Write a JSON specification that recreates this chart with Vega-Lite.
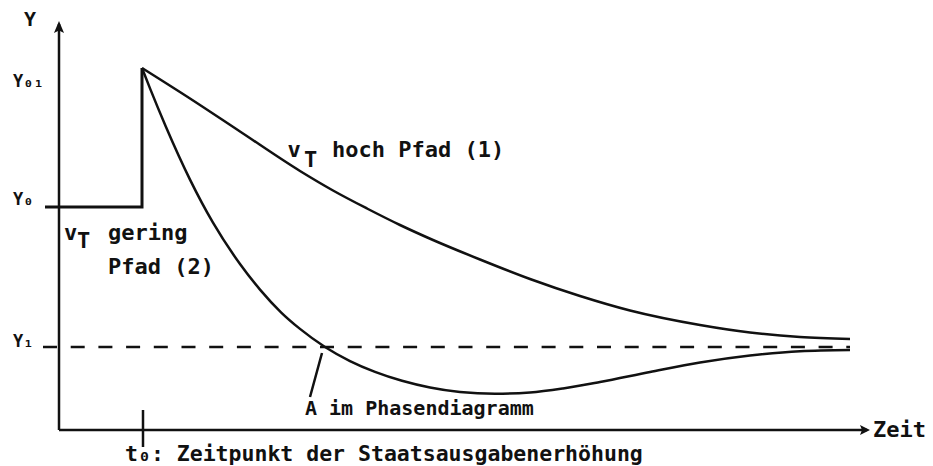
{
  "$schema": "https://vega.github.io/schema/vega-lite/v6.json",
  "width": 933,
  "height": 466,
  "autosize": {"type": "none"},
  "padding": 0,
  "background": "white",
  "config": {"view": {"stroke": null}},
  "datasets": {
    "axes": [
      {"x": 0, "y": 0, "x2": 0, "y2": 40.6},
      {"x": 0, "y": 0, "x2": 80.8, "y2": 0},
      {"x": 8.4, "y": 2.0, "x2": 8.4, "y2": -1.7},
      {"x": 26.3, "y": 7.7, "x2": 25.1, "y2": 3.3}
    ],
    "arrows": [
      {"x": 0, "y": 40.9, "dir": "up"},
      {"x": 81.1, "y": 0, "dir": "right"}
    ],
    "y1line": [{"x": -1.6, "x2": 79.1, "y": 8.3}],
    "step": [
      {"x": -1.4, "y": 22.3},
      {"x": 8.3, "y": 22.3},
      {"x": 8.3, "y": 36.2}
    ],
    "paths": [
      {"pfad": "1", "x": 8.3, "y": 36.2},
      {"pfad": "1", "x": 13.1, "y": 33.15},
      {"pfad": "1", "x": 18.1, "y": 29.85},
      {"pfad": "1", "x": 24.1, "y": 25.9},
      {"pfad": "1", "x": 27.4, "y": 23.95},
      {"pfad": "1", "x": 30.8, "y": 22.15},
      {"pfad": "1", "x": 34.1, "y": 20.5},
      {"pfad": "1", "x": 37.4, "y": 19.0},
      {"pfad": "1", "x": 42.1, "y": 17.05},
      {"pfad": "1", "x": 47.1, "y": 15.1},
      {"pfad": "1", "x": 52.1, "y": 13.4},
      {"pfad": "1", "x": 57.1, "y": 11.95},
      {"pfad": "1", "x": 64.1, "y": 10.5},
      {"pfad": "1", "x": 69.1, "y": 9.75},
      {"pfad": "1", "x": 74.1, "y": 9.3},
      {"pfad": "1", "x": 79.1, "y": 9.1},
      {"pfad": "2", "x": 8.3, "y": 36.2},
      {"pfad": "2", "x": 9.1, "y": 34.16},
      {"pfad": "2", "x": 10.7, "y": 30.3},
      {"pfad": "2", "x": 13.1, "y": 25.04},
      {"pfad": "2", "x": 15.4, "y": 20.73},
      {"pfad": "2", "x": 18.1, "y": 16.6},
      {"pfad": "2", "x": 20.1, "y": 14.04},
      {"pfad": "2", "x": 22.2, "y": 11.77},
      {"pfad": "2", "x": 24.1, "y": 10.11},
      {"pfad": "2", "x": 26.6, "y": 8.3},
      {"pfad": "2", "x": 29.1, "y": 6.89},
      {"pfad": "2", "x": 31.6, "y": 5.81},
      {"pfad": "2", "x": 34.3, "y": 4.92},
      {"pfad": "2", "x": 37.1, "y": 4.25},
      {"pfad": "2", "x": 40.1, "y": 3.8},
      {"pfad": "2", "x": 43.6, "y": 3.63},
      {"pfad": "2", "x": 47.1, "y": 3.75},
      {"pfad": "2", "x": 50.4, "y": 4.15},
      {"pfad": "2", "x": 54.1, "y": 4.8},
      {"pfad": "2", "x": 59.1, "y": 5.8},
      {"pfad": "2", "x": 64.1, "y": 6.75},
      {"pfad": "2", "x": 69.1, "y": 7.45},
      {"pfad": "2", "x": 74.1, "y": 7.88},
      {"pfad": "2", "x": 79.1, "y": 8.0}
    ],
    "labels": [
      {"g": "main", "x": 0.5, "y": 19.0, "text": "v"},
      {"g": "main", "x": 1.8, "y": 18.2, "text": "T"},
      {"g": "main", "x": 4.9, "y": 19.0, "text": "gering"},
      {"g": "main", "x": 4.9, "y": 15.6, "text": "Pfad (2)"},
      {"g": "main", "x": 22.85, "y": 27.3, "text": "v"},
      {"g": "main", "x": 24.5, "y": 26.3, "text": "T"},
      {"g": "main", "x": 27.3, "y": 27.3, "text": "hoch Pfad (1)"},
      {"g": "bottom", "x": 6.6, "y": -3.1, "text": "t₀: Zeitpunkt der Staatsausgabenerhöhung"},
      {"g": "main", "x": 81.4, "y": -0.7, "text": "Zeit"},
      {"g": "a", "x": 24.6, "y": 1.5, "text": "A im Phasendiagramm"},
      {"g": "title", "x": -2.9, "y": 41.0, "text": "Y"},
      {"g": "ylab", "x": -4.6, "y": 34.8, "text": "Y₀₁"},
      {"g": "ylab", "x": -4.6, "y": 23.0, "text": "Y₀"},
      {"g": "ylab", "x": -4.6, "y": 8.8, "text": "Y₁"}
    ]
  },
  "encoding": {
    "x": {"field": "x", "type": "quantitative", "scale": {"domain": [-5.9, 87.4], "nice": false, "zero": false}, "axis": null},
    "y": {"field": "y", "type": "quantitative", "scale": {"domain": [-3.6, 43.0], "nice": false, "zero": false}, "axis": null}
  },
  "layer": [
    {
      "data": {"name": "axes"},
      "mark": {"type": "rule", "color": "#111", "strokeWidth": 2.5},
      "encoding": {"x2": {"field": "x2"}, "y2": {"field": "y2"}}
    },
    {
      "data": {"name": "y1line"},
      "mark": {"type": "rule", "color": "#111", "strokeWidth": 2.5, "strokeDash": [14, 13.7]},
      "encoding": {"x2": {"field": "x2"}}
    },
    {
      "data": {"name": "step"},
      "mark": {"type": "line", "color": "#111", "strokeWidth": 3, "strokeJoin": "miter"},
      "encoding": {"order": {"value": 0}}
    },
    {
      "data": {"name": "paths"},
      "mark": {"type": "line", "color": "#111", "strokeWidth": 2.5, "interpolate": "monotone"},
      "encoding": {"detail": {"field": "pfad"}}
    },
    {
      "data": {"name": "arrows"},
      "transform": [{"filter": "datum.dir === 'up'"}],
      "mark": {"type": "point", "shape": "M0,0L0.42,1L0,0.8L-0.42,1Z", "size": 576, "filled": true, "color": "#111", "strokeWidth": 1.5, "opacity": 1}
    },
    {
      "data": {"name": "arrows"},
      "transform": [{"filter": "datum.dir === 'right'"}],
      "mark": {"type": "point", "shape": "M0,0L-1,-0.5L-0.8,0L-1,0.5Z", "size": 400, "filled": true, "color": "#111", "strokeWidth": 1.5, "opacity": 1}
    },
    {
      "data": {"name": "labels"},
      "transform": [{"filter": "datum.g === 'main'"}],
      "mark": {"type": "text", "font": "DejaVu Sans Mono", "fontWeight": "bold", "fontSize": 22, "align": "left", "baseline": "alphabetic", "color": "#111"},
      "encoding": {"text": {"field": "text"}}
    },
    {
      "data": {"name": "labels"},
      "transform": [{"filter": "datum.g === 'bottom'"}],
      "mark": {"type": "text", "font": "DejaVu Sans Mono", "fontWeight": "bold", "fontSize": 21.5, "align": "left", "baseline": "alphabetic", "color": "#111"},
      "encoding": {"text": {"field": "text"}}
    },
    {
      "data": {"name": "labels"},
      "transform": [{"filter": "datum.g === 'a'"}],
      "mark": {"type": "text", "font": "DejaVu Sans Mono", "fontWeight": "bold", "fontSize": 20, "align": "left", "baseline": "alphabetic", "color": "#111"},
      "encoding": {"text": {"field": "text"}}
    },
    {
      "data": {"name": "labels"},
      "transform": [{"filter": "datum.g === 'title'"}],
      "mark": {"type": "text", "font": "DejaVu Sans Mono", "fontWeight": "bold", "fontSize": 20, "align": "center", "baseline": "middle", "color": "#111"},
      "encoding": {"text": {"field": "text"}}
    },
    {
      "data": {"name": "labels"},
      "transform": [{"filter": "datum.g === 'ylab'"}],
      "mark": {"type": "text", "font": "DejaVu Sans Mono", "fontWeight": "bold", "fontSize": 17, "align": "left", "baseline": "middle", "color": "#111"},
      "encoding": {"text": {"field": "text"}}
    }
  ]
}
